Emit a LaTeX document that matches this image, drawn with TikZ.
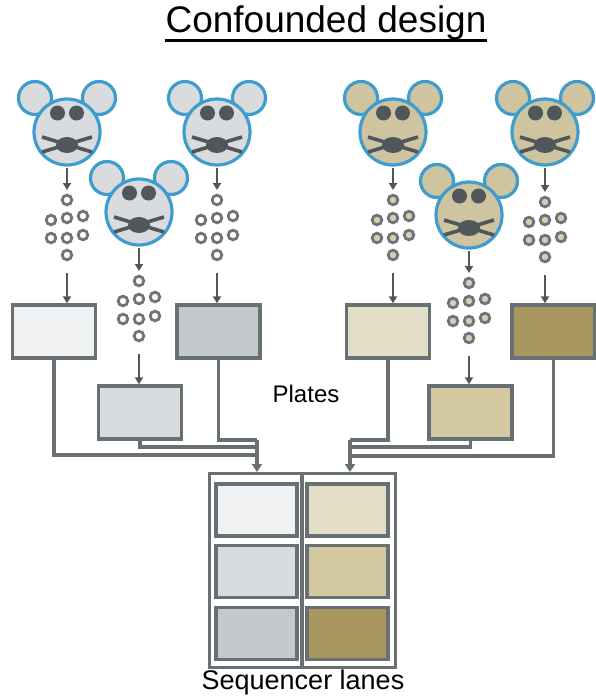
\documentclass[tikz,border=0pt]{standalone}
\usepackage{fontspec}
\setmainfont{Liberation Sans}
\usetikzlibrary{arrows.meta}

\definecolor{ringblue}{HTML}{3E9CCF}
\definecolor{mousegrey}{HTML}{D9DBDD}
\definecolor{mousetan}{HTML}{CFC4A0}
\definecolor{facedark}{HTML}{50575B}
\definecolor{linegrey}{HTML}{687074}
\definecolor{beadgrey}{HTML}{6E7477}
\definecolor{beadtan}{HTML}{D8D0AE}
\definecolor{greyA}{HTML}{EFF1F3}
\definecolor{greyB}{HTML}{D8DCDF}
\definecolor{greyC}{HTML}{C3C9CC}
\definecolor{tanA}{HTML}{E2DEC7}
\definecolor{tanB}{HTML}{D3C8A0}
\definecolor{tanC}{HTML}{A8985F}

% mouse head: name, centre of head, fill colour
\newcommand{\mouse}[3]{%
\begin{scope}[shift={#2}]
\draw[mouseline, fill=#3] (-32,-34) circle (16.5pt) (32,-34) circle (16.5pt);
\draw[mouseline, fill=#3] (0,0) circle (33pt);
\fill[facedark] (-9.5,-19) circle (7.5pt) (9.5,-19) circle (7.5pt);
\draw[facedark, line width=3.6pt] (-25,5) -- (25,20) (-25,20) -- (25,5);
\fill[facedark] (0,13) ellipse (11pt and 8pt);
\coordinate (#1) at (0,36);
\end{scope}}

% cluster of eight beads: name, top bead, fill colour
\newcommand{\beads}[3]{%
\begin{scope}[shift={#2}]
\foreach \bx/\by in {0/0, -16/20, 0/18, 16/16, -16/38, 0/38, 16/35, 0/55}
  \draw[bead, fill=#3] (\bx,\by) circle (4.8pt);
\coordinate (#1-in) at (0,-10);
\coordinate (#1-out) at (0,73);
\end{scope}}

\begin{document}
\begin{tikzpicture}[x=1pt, y=-1pt,
  mouseline/.style={draw=ringblue, line width=3.2pt},
  bead/.style={draw=beadgrey, line width=2.8pt},
  arr/.style={draw=facedark, line width=2.4pt, -{Triangle[width=8pt,length=7pt]}},
  plate/.style={draw=linegrey, line width=3.4pt, minimum width=83pt, minimum height=53pt, inner sep=0pt},
  lane/.style={draw=linegrey, line width=3.8pt, minimum width=81pt, minimum height=52pt, inner sep=0pt},
  link/.style={draw=linegrey, line width=3.2pt},
  label/.style={inner sep=0pt, anchor=base}]
\useasboundingbox (0,0) rectangle (596,696);

% title
\node[label, font=\fontsize{37}{40}\selectfont] (title) at (326,32) {Confounded design};
\draw[line width=3pt] ([yshift=-1pt]title.south west) -- ([yshift=-1pt]title.south east);

% mice
\mouse{m1}{(67,132)}{mousegrey}
\mouse{m2}{(139,212)}{mousegrey}
\mouse{m3}{(217,132)}{mousegrey}
\mouse{m4}{(393,132)}{mousetan}
\mouse{m5}{(469,215)}{mousetan}
\mouse{m6}{(545,132)}{mousetan}

% beads
\beads{b1}{(67,200)}{white}
\beads{b2}{(139,281)}{white}
\beads{b3}{(217,200)}{white}
\beads{b4}{(393,200)}{beadtan}
\beads{b5}{(469,283)}{beadtan}
\beads{b6}{(545,202)}{beadtan}

% plates
\node[plate, fill=greyA] (p1) at (54,331.5) {};
\node[plate, fill=greyB] (p2) at (140,412.5) {};
\node[plate, fill=greyC] (p3) at (218.5,331.5) {};
\node[plate, fill=tanA] (p4) at (388,331.5) {};
\node[plate, fill=tanB] (p5) at (470.5,412.5) {};
\node[plate, fill=tanC] (p6) at (553.5,331.5) {};

\foreach \i in {1,...,6} {
  \draw[arr] (m\i) -- (b\i-in);
  \draw[arr] (b\i-out) -- (b\i-out |- p\i.north);
}

\node[label, font=\fontsize{24}{28}\selectfont] (platelabel) at (306,402) {Plates};

% sequencer
\node[draw=linegrey, line width=3pt, minimum width=186pt, minimum height=194pt, inner sep=0pt] (lanes) at (302,570) {};
\draw[link, line width=3.6pt] (lanes.north) -- (lanes.south);
\foreach \r/\y/\cl/\cr in {1/510/greyA/tanA, 2/571.5/greyB/tanB, 3/633.5/greyC/tanC} {
  \node[lane, fill=\cl] (lane\r-l) at (256.5,\y) {};
  \node[lane, fill=\cr] (lane\r-r) at (347.5,\y) {};
}

\coordinate (jl1) at (257,455);
\coordinate (jl2) at (257,447);
\coordinate (jl3) at (257,440);
\coordinate (inl) at (257,472);
\coordinate (jr1) at (350,440);
\coordinate (jr2) at (350,447);
\coordinate (jr3) at (350,456);
\coordinate (inr) at (350,472);

\draw[link] (p1.south) |- (jl1);
\draw[link] (p2.south) |- (jl2);
\draw[link] (p3.south) |- (jl3);
\draw[link, -{Triangle[width=10pt,length=8pt]}] (jl3) -- (inl);
\draw[link] (p4.south) |- (jr1);
\draw[link] (p5.south) |- (jr2);
\draw[link] (p6.south) |- (jr3);
\draw[link, -{Triangle[width=10pt,length=8pt]}] (jr1) -- (inr);

\node[label, font=\fontsize{27}{30}\selectfont] (lanelabel) at (303,689) {Sequencer lanes};
\end{tikzpicture}
\end{document}
